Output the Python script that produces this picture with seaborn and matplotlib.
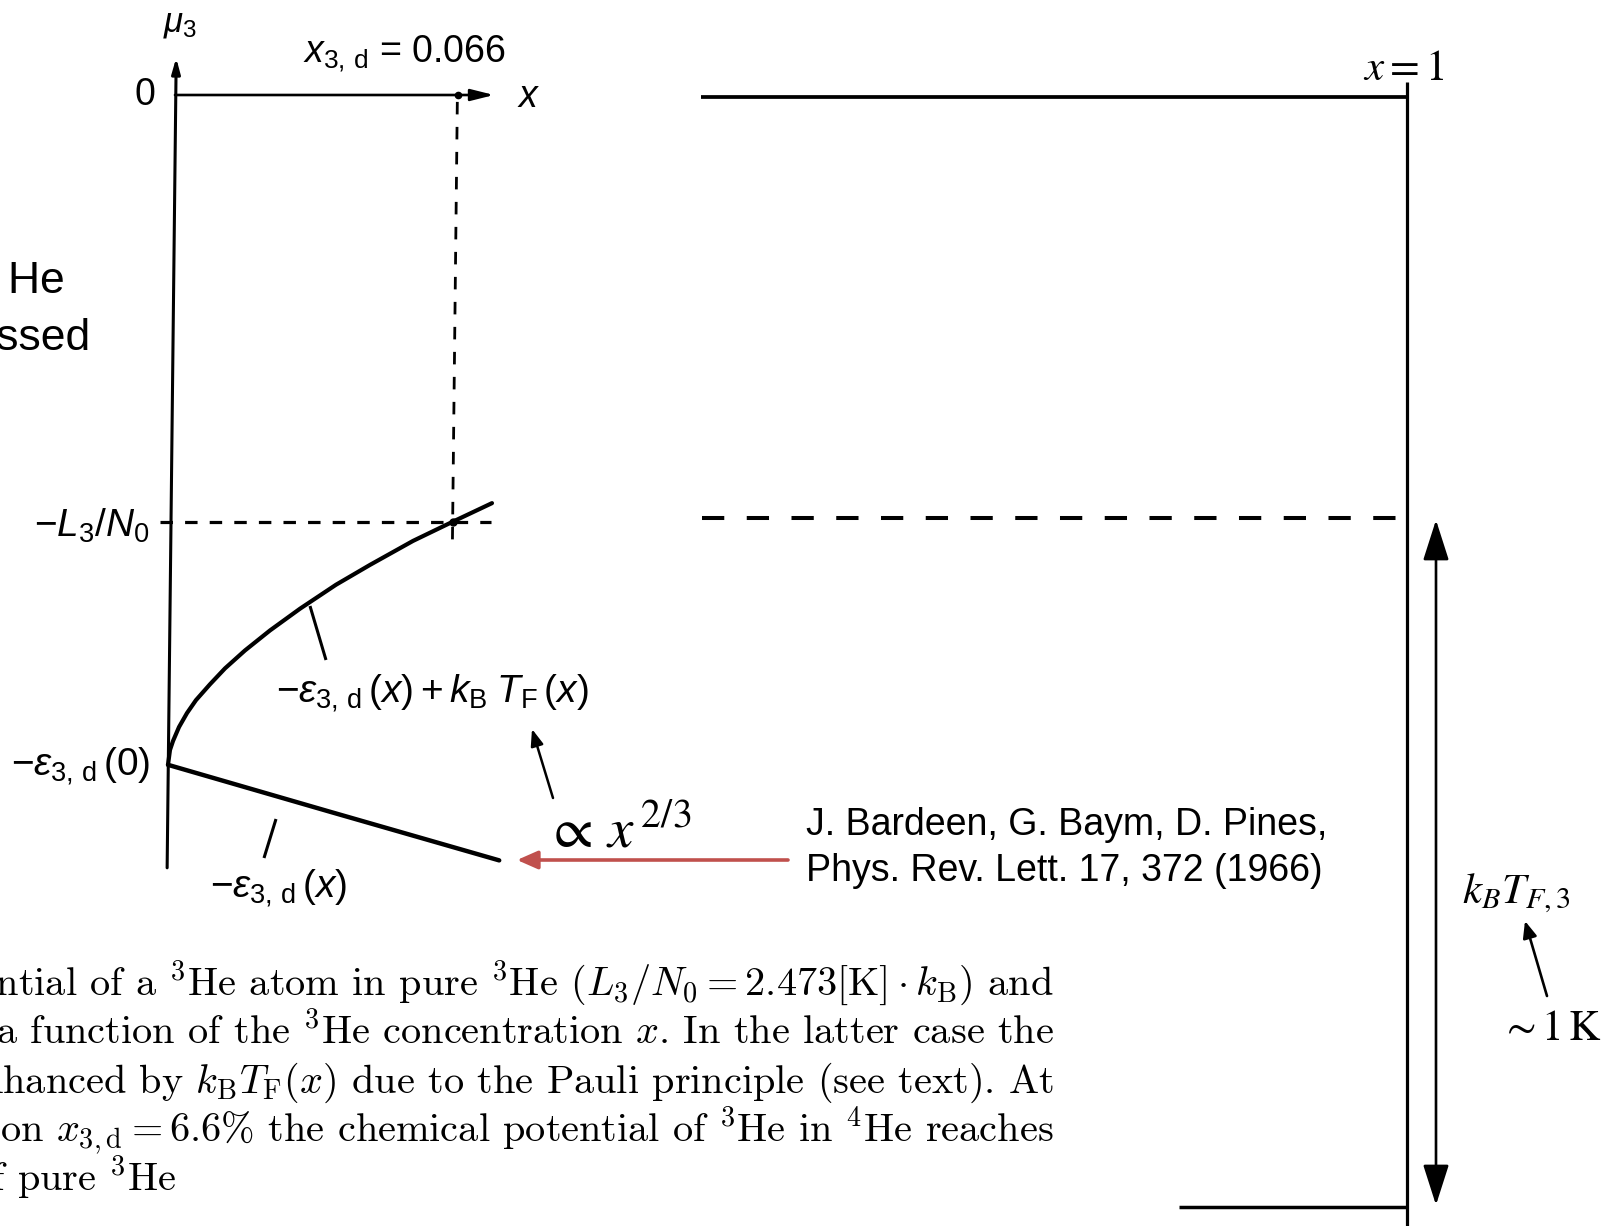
import matplotlib
matplotlib.use("Agg")
import matplotlib.pyplot as plt
import seaborn as sns
import pandas as pd

sns.set_theme(style="white")
plt.rcParams["font.family"] = ["Liberation Sans", "DejaVu Sans"]
plt.rcParams["mathtext.fontset"] = "custom"
plt.rcParams["mathtext.rm"] = "Liberation Sans"
plt.rcParams["mathtext.it"] = "Liberation Sans:italic"
plt.rcParams["mathtext.bf"] = "Liberation Sans:bold"
plt.rcParams["mathtext.fallback"] = "stixsans"

# ---- data: chemical potential of 3He (in K) vs. 3He concentration x ----
x_mix = [0.0, 0.00046, 0.00116, 0.00255, 0.0044, 0.00648, 0.00973, 0.0132,
         0.01783, 0.02362, 0.03057, 0.03891, 0.04678, 0.05674, 0.066, 0.07503]
mu_mix = [-3.883, -3.797, -3.745, -3.664, -3.583, -3.508, -3.416, -3.324,
          -3.220, -3.104, -2.978, -2.839, -2.724, -2.585, -2.473, -2.366]
x_bind = [0.0, 0.0375, 0.0767]
mu_bind = [-3.883, -4.155, -4.437]
x_3d = 0.066          # phase separation concentration
L3_N0 = 2.473         # latent heat per atom of pure 3He, K

# axis extents of the mu3(x) sketch
mu_axis = [0.215, -4.48]
mu_axis_x = [0.0019, -0.0002]
x_axis_end = 0.0755

mix = pd.DataFrame({"x": x_mix, "mu": mu_mix})
bind = pd.DataFrame({"x": x_bind, "mu": mu_bind})

W, H = 1605, 1226
fig = plt.figure(figsize=(W / 100, H / 100), dpi=100)
fig.patch.set_facecolor("white")

# data axes for the mu3(x) sketch
axd = fig.add_axes([0, 0, 1, 1])
PX0, PXS, PY0, PYS = 168.0, 4318.2, 95.0, 172.5
axd.set_xlim(-PX0 / PXS, (W - PX0) / PXS)
axd.set_ylim(-(H - PY0) / PYS, PY0 / PYS)
axd.set_axis_off()

# pixel overlay for annotations and the level scheme
ax = fig.add_axes([0, 0, 1, 1])
ax.set_xlim(0, W)
ax.set_ylim(H, 0)
ax.set_axis_off()
ax.patch.set_alpha(0)

# axes of the sketch
axd.annotate("", xy=(mu_axis_x[0], mu_axis[0]), xytext=(mu_axis_x[1], mu_axis[1]),
             arrowprops=dict(arrowstyle="-|>,head_length=0.9,head_width=0.25",
                             mutation_scale=10, lw=2.2, color="black",
                             shrinkA=0, shrinkB=0))
axd.annotate("", xy=(x_axis_end, 0), xytext=(mu_axis_x[0] * 0.85, 0),
             arrowprops=dict(arrowstyle="-|>,head_length=1.4,head_width=0.35",
                             mutation_scale=10, lw=1.9, color="black",
                             shrinkA=0, shrinkB=0))
axd.plot([x_3d + 0.0012], [0], marker="o", ms=4.5, color="black")

# guide lines at x_3d and -L3/N0
axd.plot([x_3d + 0.001, x_3d - 0.00015], [-0.04, -2.625], color="black",
         lw=2.0, dashes=(4.5, 4.5))
axd.plot([-0.0019, 0.0748], [-L3_N0, -L3_N0], color="black", lw=2.3,
         dashes=(3.9, 3.8))

# curves
sns.lineplot(data=mix, x="x", y="mu", ax=axd, color="black", lw=3.0,
             sort=False, estimator=None)
sns.lineplot(data=bind, x="x", y="mu", ax=axd, color="black", lw=3.2,
             sort=False, estimator=None)
axd.plot([x_3d], [-L3_N0], marker="o", ms=5, color="black")

# leader lines to the curve labels
ax.plot([310, 326], [606, 660], color="black", lw=2.2, solid_capstyle="butt")
ax.plot([276, 264], [819, 858], color="black", lw=2.2, solid_capstyle="butt")

sans = dict(color="black")
ax.text(180, 24, r"$\mu_3$", fontsize=25, ha="center", va="center", **sans)
ax.text(303, 62, r"$x_{3,\,\mathrm{d}}$ = 0.066", fontsize=27, ha="left",
        va="baseline", **sans)
ax.text(155, 95, "0", fontsize=27, ha="right", va="center", **sans)
ax.text(517, 97, r"$x$", fontsize=27, ha="left", va="center", **sans)
ax.text(150, 526, r"$-L_3/N_0$", fontsize=28, ha="right", va="center", **sans)
ax.text(150, 766, r"$-\varepsilon_{3,\,\mathrm{d}}\,(0)$", fontsize=28,
        ha="right", va="center", **sans)
ax.text(276, 693, r"$-\varepsilon_{3,\,\mathrm{d}}\,(x) + k_\mathrm{B}\;T_\mathrm{F}\,(x)$",
        fontsize=28, ha="left", va="center", **sans)
ax.text(210, 888, r"$-\varepsilon_{3,\,\mathrm{d}}\,(x)$", fontsize=28,
        ha="left", va="center", **sans)

# x^(2/3) pointer and the reference arrow
ax.annotate("", xy=(532, 729), xytext=(553, 798),
            arrowprops=dict(arrowstyle="-|>,head_length=1.0,head_width=0.38",
                            mutation_scale=10, lw=1.8, color="black",
                            shrinkA=0, shrinkB=0))
ax.text(545, 832, r"$\propto\, x^{\,2/3}$", fontsize=41, ha="left",
        va="center", color="black", family="Liberation Serif",
        math_fontfamily="stix")
red = "#C0504D"
ax.annotate("", xy=(517, 860), xytext=(788, 860),
            arrowprops=dict(arrowstyle="-|>,head_length=1.25,head_width=0.55",
                            mutation_scale=10, lw=2.6, color=red,
                            shrinkA=0, shrinkB=0))
ax.text(806, 825, "J. Bardeen, G. Baym, D. Pines,", fontsize=27, ha="left",
        va="center", color="black")
ax.text(806, 871, "Phys. Rev. Lett. 17, 372 (1966)", fontsize=27, ha="left",
        va="center", color="black")

# level scheme of pure 3He
ax.plot([701, 1407], [97, 97], color="black", lw=2.7, solid_capstyle="butt")
ax.plot([1407, 1407], [82, H], color="black", lw=2.3, solid_capstyle="butt")
ax.plot([702, 1397], [518, 518], color="black", lw=2.9, dashes=(5.53, 5.58))
ax.plot([1179, 1407], [1207, 1207], color="black", lw=2.5, solid_capstyle="butt")
ax.annotate("", xy=(1436, 520), xytext=(1436, 1205),
            arrowprops=dict(arrowstyle="<|-|>,head_length=2.5,head_width=0.8",
                            mutation_scale=10, lw=1.9, color="black",
                            shrinkA=0, shrinkB=0))
ax.annotate("", xy=(1525, 921), xytext=(1547, 996),
            arrowprops=dict(arrowstyle="-|>,head_length=1.0,head_width=0.42",
                            mutation_scale=10, lw=1.9, color="black",
                            shrinkA=0, shrinkB=0))
serif = dict(color="black", family="Liberation Serif", math_fontfamily="stix")
ax.text(1404, 70, r"$x = 1$", fontsize=31, ha="center", va="center", **serif)
ax.text(1516, 893, r"$k_BT_{F,3}$", fontsize=31, ha="center", va="center", **serif)
ax.text(1551, 1030, r"$\sim 1\,\mathrm{K}$", fontsize=31, ha="center",
        va="center", **serif)

# slide text running in from the left edge
ax.text(64, 295, r"for $^3$He in $^4\,$He", fontsize=32, ha="right",
        va="baseline", color="black")
ax.text(90, 350, "as discussed", fontsize=32, ha="right", va="baseline",
        color="black")

# figure caption
cap = dict(color="black", family="cmr10", math_fontfamily="cm", fontsize=29,
           va="baseline")
caption = [
    r"Fig. 7.6. Chemical potential of a $^3$He atom in pure $^3$He ($L_3/N_0 = 2.473[\mathrm{K}]\cdot k_\mathrm{B}$) and",
    r"of $^3$He diluted in $^4$He as a function of the $^3$He concentration $x$. In the latter case the",
    r"binding energy is enhanced by $k_\mathrm{B}T_\mathrm{F}(x)$ due to the Pauli principle (see text). At",
    r"the concentration $x_{3,\mathrm{d}} = 6.6\%$ the chemical potential of $^3$He in $^4$He reaches",
]
for i, line in enumerate(caption):
    ax.text(1054, 995 + 49 * i, line, ha="right", **cap)
ax.text(176, 995 + 49 * 4, r"reaches that of pure $^3$He", ha="right", **cap)

fig.savefig("out.png", dpi=100, facecolor="white")
